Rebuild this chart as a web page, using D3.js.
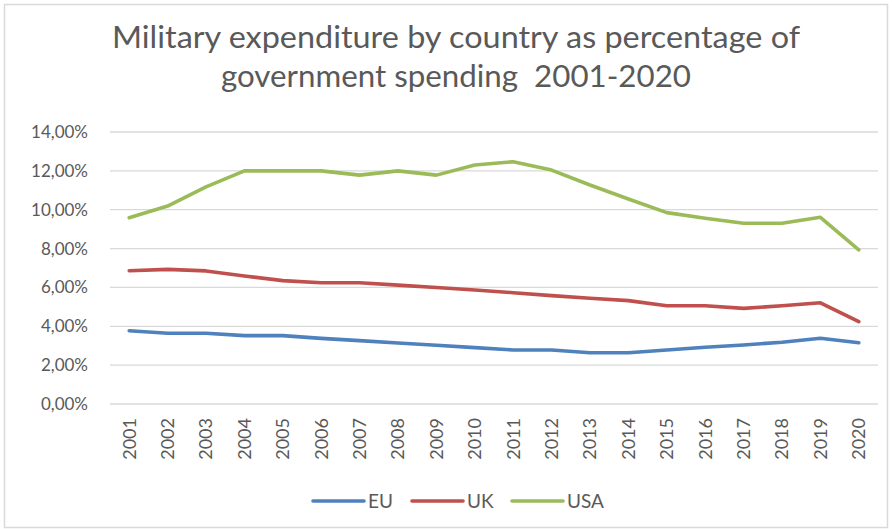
<!DOCTYPE html>
<html>
<head>
<meta charset="utf-8">
<script src="https://cdn.jsdelivr.net/npm/d3@7"></script>
<style>
  body { margin: 0; background: #fff; }
  svg { display: block; font-family: Lato, "Open Sans", sans-serif; }
</style>
</head>
<body>
<div id="chart"></div>
<script>
// Data
const years = ["2001","2002","2003","2004","2005","2006","2007","2008","2009","2010",
               "2011","2012","2013","2014","2015","2016","2017","2018","2019","2020"];
const eu  = [3.77, 3.64, 3.64, 3.52, 3.52, 3.38, 3.26, 3.14, 3.02, 2.90,
             2.78, 2.78, 2.64, 2.64, 2.78, 2.92, 3.04, 3.18, 3.38, 3.15];
const uk  = [6.86, 6.93, 6.85, 6.59, 6.35, 6.24, 6.24, 6.12, 6.00, 5.87,
             5.73, 5.58, 5.44, 5.32, 5.06, 5.06, 4.92, 5.06, 5.21, 4.24];
const usa = [9.59, 10.19, 11.18, 12.0, 12.0, 12.0, 11.78, 12.0, 11.78, 12.3,
             12.47, 12.04, 11.27, 10.55, 9.85, 9.56, 9.30, 9.30, 9.61, 7.93];
const seriesNames = ["EU", "UK", "USA"];
const yTicks = [0, 2, 4, 6, 8, 10, 12, 14];

const W = 892, H = 529;
const margin = { top: 132, right: 14, bottom: 125, left: 110 };
const textColor = "#595959";
const colors = { EU: "#4f81bd", UK: "#c0504d", USA: "#9bbb59" };

const series = [
  { name: "EU", values: eu },
  { name: "UK", values: uk },
  { name: "USA", values: usa }
];

const svg = d3.select("#chart").append("svg")
    .attr("width", W)
    .attr("height", H);

// chart frame
svg.append("rect")
    .attr("x", 4.5).attr("y", 4.5)
    .attr("width", W - 9).attr("height", H - 6)
    .attr("fill", "#fff")
    .attr("stroke", "#d9d9d9")
    .attr("stroke-width", 1.5);

// Title (keeps the double space of the original)
const title = svg.append("text")
    .attr("text-anchor", "middle")
    .attr("fill", textColor)
    .style("white-space", "pre")
    .style("font-size", "30px");
title.append("tspan").attr("x", 456).attr("y", 48)
    .attr("textLength", 688).attr("lengthAdjust", "spacingAndGlyphs")
    .text("Military expenditure by country as percentage of");
title.append("tspan").attr("x", 456).attr("y", 87)
    .attr("textLength", 470).attr("lengthAdjust", "spacingAndGlyphs")
    .text("government spending  2001-2020");

const g = svg.append("g")
    .attr("transform", `translate(${margin.left},${margin.top})`);

const iw = 878 - margin.left;
const ih = 404 - margin.top;

const x = d3.scaleBand().domain(years).range([0, iw]);
const y = d3.scaleLinear().domain([0, 14]).range([ih, 0]);

// grid lines
g.append("g")
  .selectAll("line")
  .data(yTicks)
  .join("line")
    .attr("x1", 0).attr("x2", iw)
    .attr("y1", d => y(d)).attr("y2", d => y(d))
    .attr("stroke", "#d9d9d9")
    .attr("stroke-width", 1.3);

// y axis labels
const yAxis = d3.axisLeft(y)
    .tickValues(yTicks)
    .tickSize(0)
    .tickPadding(22)
    .tickFormat(d => d.toFixed(2).replace(".", ",") + "%");

g.append("g")
    .call(yAxis)
    .call(s => s.select(".domain").remove())
    .selectAll("text")
    .attr("fill", textColor)
    .style("font-family", "Lato, sans-serif")
    .style("font-size", "17px");

// x axis labels (rotated)
const xAxis = d3.axisBottom(x).tickSize(0);
g.append("g")
    .attr("transform", `translate(0,${ih})`)
    .call(xAxis)
    .call(s => s.select(".domain").remove())
    .selectAll("text")
    .attr("fill", textColor)
    .style("font-family", "Lato, sans-serif")
    .style("font-size", "18px")
    .attr("transform", "rotate(-90)")
    .attr("text-anchor", "end")
    .attr("x", -14)
    .attr("y", 0)
    .attr("dy", "0.35em");

// lines
const line = d3.line()
    .x((d, i) => x(years[i]) + x.bandwidth() / 2)
    .y(d => y(d));

g.append("g")
  .selectAll("path")
  .data(series)
  .join("path")
    .attr("d", d => line(d.values))
    .attr("fill", "none")
    .attr("stroke", d => colors[d.name])
    .attr("stroke-width", 3.6)
    .attr("stroke-linejoin", "round")
    .attr("stroke-linecap", "round");

// legend
const legendX = [313, 412, 512];
const legend = svg.append("g")
  .selectAll("g")
  .data(seriesNames)
  .join("g")
    .attr("transform", (d, i) => `translate(${legendX[i]},501)`);

legend.append("line")
    .attr("x1", 0).attr("x2", 51)
    .attr("stroke", d => colors[d])
    .attr("stroke-width", 3.6)
    .attr("stroke-linecap", "round");

legend.append("text")
    .attr("x", 55)
    .attr("dy", "0.35em")
    .attr("fill", textColor)
    .style("font-size", "19px")
    .text(d => d);
</script>
</body>
</html>
